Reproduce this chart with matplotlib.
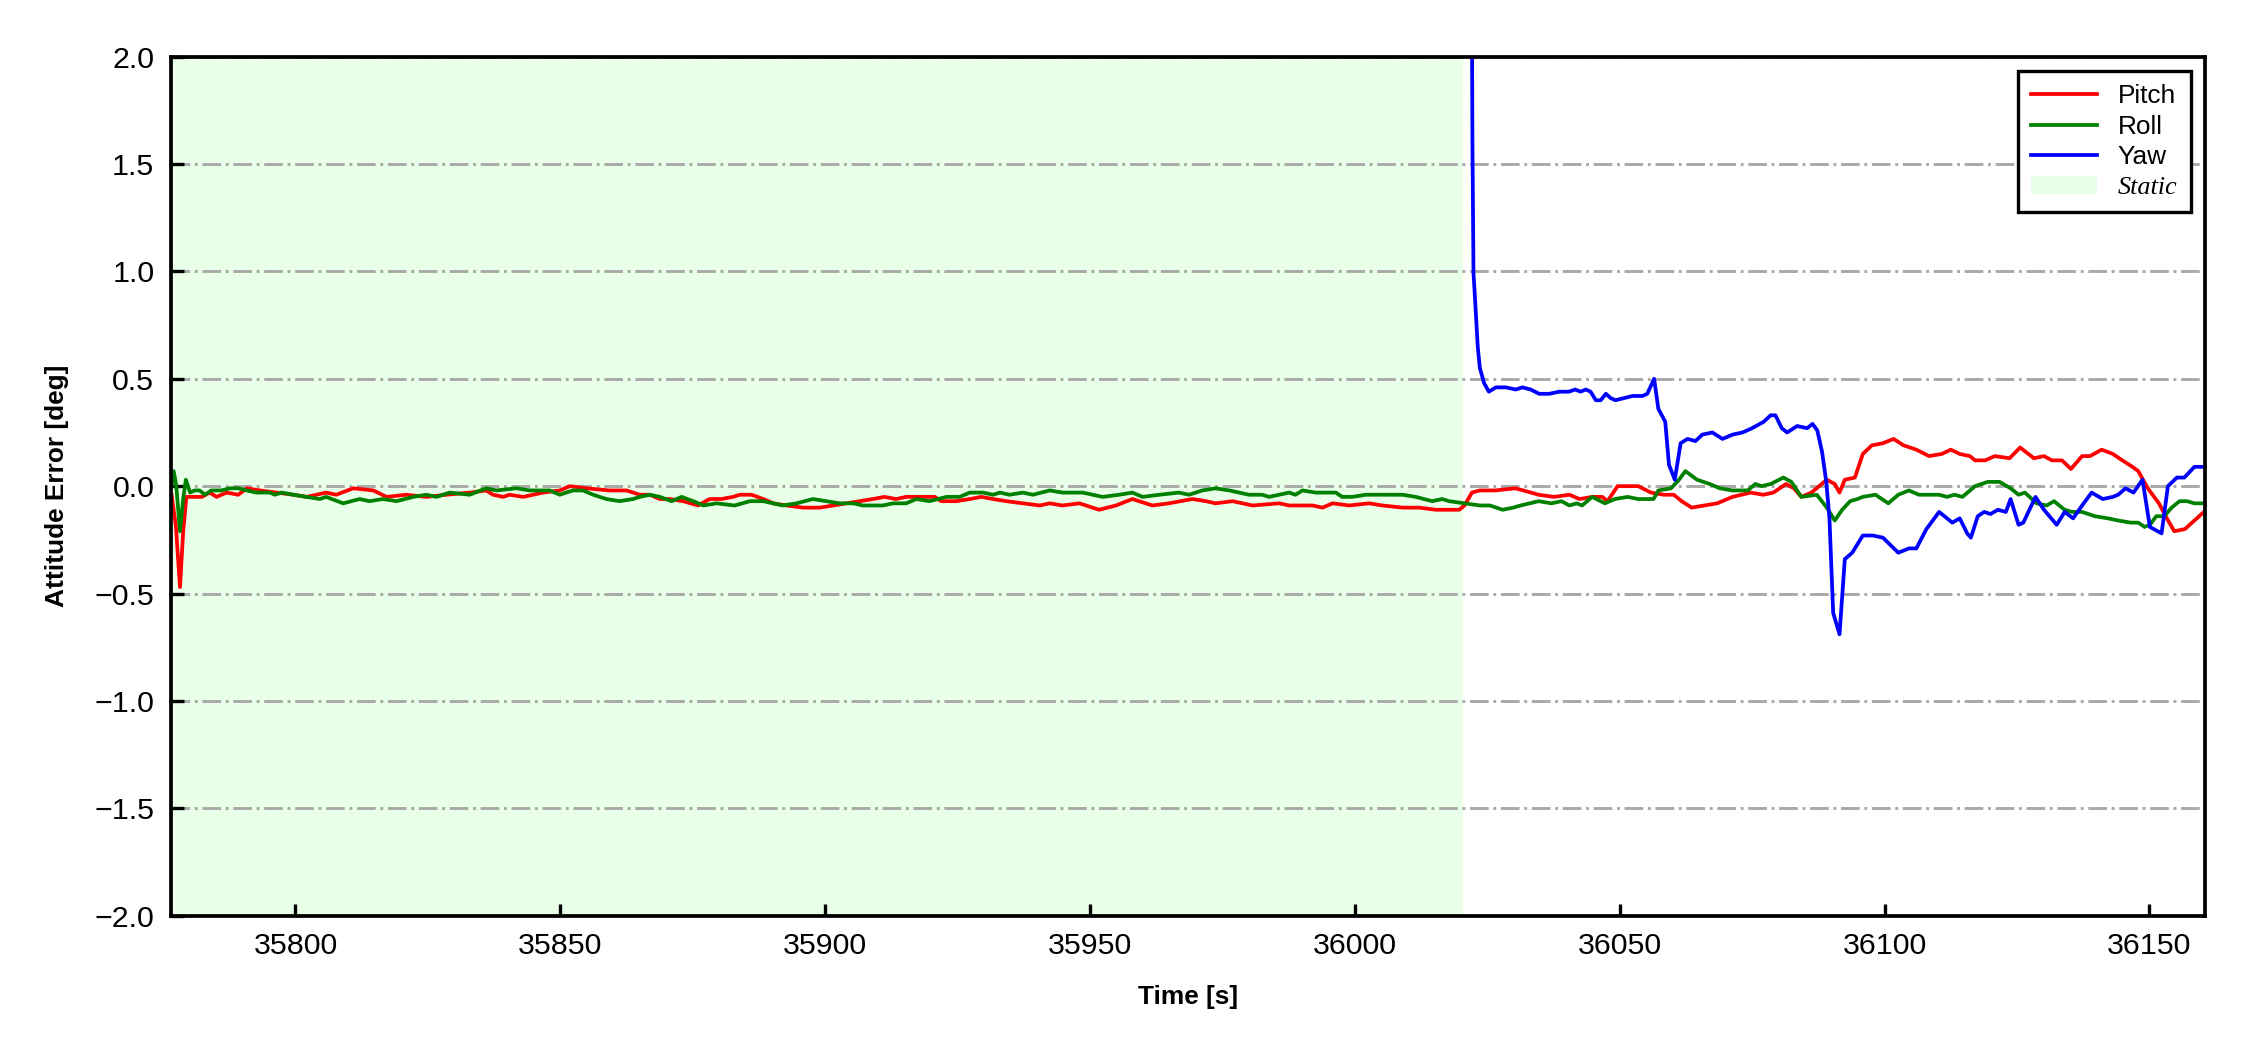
import numpy as np
import matplotlib
matplotlib.use("Agg")
import matplotlib.pyplot as plt

plt.rcParams['font.family'] = ['Liberation Sans', 'DejaVu Sans']

# time axis limits and end of the static phase
t_start = 35776.5
t_end = 36160.5
static_end = 36020.5

# Pitch error [deg]
pitch_t = [35776.6, 35777.4, 35778.2, 35778.8, 35779.4, 35780.7, 35782.3, 35783.8, 35785.1, 35787.0,
           35789.2, 35790.8, 35793.3, 35796.4, 35799.6, 35802.1, 35805.8, 35807.7, 35810.9, 35814.7,
           35817.2, 35820.9, 35824.7, 35828.5, 35832.9, 35836.0, 35837.3, 35839.2, 35840.4, 35843.0,
           35846.7, 35849.9, 35851.8, 35854.9, 35859.3, 35862.5,
           35865.0, 35866.9, 35868.8, 35870.7, 35873.2, 35876.0, 35878.2, 35880.4, 35882.6, 35883.9,
           35886.1, 35888.3, 35890.2, 35892.7, 35895.8, 35899.0, 35901.5, 35904.0, 35906.5, 35909.0,
           35911.2, 35913.4, 35915.3, 35917.8, 35920.7, 35921.9, 35924.7, 35927.3, 35929.5, 35931.7,
           35934.2, 35937.3, 35940.5, 35942.4,
           35944.8, 35948.0, 35951.7, 35954.9, 35958.0, 35961.8, 35964.9, 35969.3, 35971.9, 35973.7,
           35976.9, 35980.7, 35985.7, 35987.6, 35992.0, 35993.9, 35995.8, 35998.9, 36002.7, 36005.2,
           36009.0, 36012.1, 36015.3,
           36017.8, 36019.7, 36020.7, 36022.1, 36023.6, 36026.5, 36030.3, 36031.8, 36034.7, 36037.6,
           36040.5, 36042.4, 36044.8, 36046.7, 36047.7, 36049.6, 36053.5, 36055.9, 36058.3, 36060.2,
           36061.7, 36063.6, 36066.0, 36068.4, 36071.3, 36074.7, 36077.1, 36079.0, 36081.4, 36082.9,
           36084.3, 36086.2, 36089.1, 36090.6, 36091.5, 36092.5, 36094.4, 36095.9, 36097.6, 36099.7,
           36101.7, 36103.6, 36106.0, 36108.4, 36110.8, 36112.5, 36114.2, 36116.1, 36117.1, 36119.0,
           36120.8, 36123.6, 36125.6, 36128.2, 36130.1, 36131.6, 36133.5, 36135.2, 36137.3, 36138.8,
           36141.0, 36143.1, 36144.9, 36146.8, 36147.9, 36149.7, 36151.8, 36153.3, 36154.7, 36156.7,
           36158.5, 36160.3]
pitch = [-0.04, -0.18, -0.47, -0.21, -0.05, -0.05, -0.05, -0.03, -0.05, -0.03,
         -0.04, -0.01, -0.02, -0.03, -0.04, -0.05, -0.03, -0.04, -0.01, -0.02,
         -0.05, -0.04, -0.05, -0.04, -0.03, -0.02, -0.04, -0.05, -0.04, -0.05,
         -0.03, -0.02, 0.00, -0.01, -0.02, -0.02,
         -0.04, -0.04, -0.06, -0.06, -0.07, -0.09, -0.06, -0.06, -0.05, -0.04,
         -0.04, -0.06, -0.08, -0.09, -0.10, -0.10, -0.09, -0.08, -0.07, -0.06,
         -0.05, -0.06, -0.05, -0.05, -0.05, -0.07, -0.07, -0.06, -0.05, -0.06,
         -0.07, -0.08, -0.09, -0.08,
         -0.09, -0.08, -0.11, -0.09, -0.06, -0.09, -0.08, -0.06, -0.07, -0.08,
         -0.07, -0.09, -0.08, -0.09, -0.09, -0.10, -0.08, -0.09, -0.08, -0.09,
         -0.10, -0.10, -0.11,
         -0.11, -0.11, -0.09, -0.03, -0.02, -0.02, -0.01, -0.02, -0.04, -0.05,
         -0.04, -0.06, -0.05, -0.05, -0.07, 0.00, 0.00, -0.03, -0.04, -0.04,
         -0.07, -0.10, -0.09, -0.08, -0.05, -0.03, -0.04, -0.03, 0.01, -0.01,
         -0.05, -0.03, 0.03, 0.01, -0.03, 0.03, 0.04, 0.15, 0.19, 0.20,
         0.22, 0.19, 0.17, 0.14, 0.15, 0.17, 0.15, 0.14, 0.12, 0.12,
         0.14, 0.13, 0.18, 0.13, 0.14, 0.12, 0.12, 0.08, 0.14, 0.14,
         0.17, 0.15, 0.12, 0.09, 0.07, -0.01, -0.08, -0.15, -0.21, -0.20,
         -0.16, -0.12]

# Roll error [deg]
roll_t = [35776.6, 35777.0, 35777.5, 35778.2, 35778.8, 35779.3, 35780.1, 35781.0, 35781.9, 35782.9,
          35784.1, 35786.0, 35787.6, 35789.2, 35790.8, 35792.6, 35795.2, 35796.1, 35797.4, 35799.6,
          35802.1, 35804.6, 35805.8, 35809.0, 35812.1, 35814.0, 35816.5, 35819.1, 35822.2, 35824.7,
          35826.6, 35829.1, 35832.9, 35836.0, 35837.9, 35841.7, 35844.2, 35846.1, 35848.0, 35849.9,
          35851.1, 35852.4, 35854.3, 35856.2, 35858.7, 35861.2, 35863.7,
          35865.0, 35866.9, 35868.8, 35871.0, 35872.9, 35875.1, 35877.0, 35879.5, 35882.9, 35885.8,
          35888.3, 35890.2, 35892.0, 35894.6, 35897.7, 35900.2, 35902.7, 35905.3, 35907.1, 35910.9,
          35912.8, 35915.3, 35917.2, 35919.7, 35922.9, 35925.4, 35927.3, 35929.8, 35931.7, 35933.0,
          35934.8, 35937.3, 35939.2, 35942.4,
          35944.8, 35948.6, 35952.4, 35955.5, 35958.0, 35959.9, 35963.1, 35966.8, 35968.7, 35971.2,
          35973.7, 35976.3, 35980.0, 35982.5, 35983.8, 35987.6, 35988.8, 35990.1, 35992.6, 35996.4,
          35997.6, 35999.5, 36002.1, 36003.9, 36006.5, 36009.0, 36011.5, 36014.6, 36016.5,
          36017.8, 36020.7, 36023.6, 36025.5, 36027.9, 36029.9, 36031.3, 36034.7, 36037.1, 36039.0,
          36040.5, 36041.9, 36042.9, 36044.8, 36047.2, 36049.1, 36051.5, 36053.5, 36056.4, 36057.3,
          36059.7, 36061.2, 36062.4, 36064.6, 36067.0, 36068.9, 36071.3, 36074.2, 36075.6, 36076.8,
          36078.5, 36080.9, 36082.4, 36084.3, 36087.2, 36089.1, 36090.6, 36092.0, 36093.5, 36094.9,
          36095.9, 36098.3, 36100.7, 36102.6, 36104.6, 36106.5, 36110.3, 36111.8, 36113.2, 36114.7,
          36117.1, 36119.5, 36121.7, 36123.8, 36125.3, 36126.5, 36128.7, 36130.6, 36132.0, 36134.0,
          36135.4, 36137.3, 36139.7, 36142.2, 36144.1, 36146.5, 36147.9, 36149.1, 36150.1, 36151.3,
          36152.8, 36154.2, 36155.7, 36157.1, 36158.5, 36160.3]
roll = [0.00, 0.07, 0.00, -0.21, -0.06, 0.03, -0.03, -0.02, -0.02, -0.04,
        -0.02, -0.02, -0.01, -0.01, -0.02, -0.03, -0.03, -0.04, -0.03, -0.04,
        -0.05, -0.06, -0.05, -0.08, -0.06, -0.07, -0.06, -0.07, -0.05, -0.04,
        -0.05, -0.03, -0.04, -0.01, -0.02, -0.01, -0.02, -0.02, -0.02, -0.04,
        -0.03, -0.02, -0.02, -0.04, -0.06, -0.07, -0.06,
        -0.05, -0.04, -0.05, -0.07, -0.05, -0.07, -0.09, -0.08, -0.09, -0.07,
        -0.07, -0.08, -0.09, -0.08, -0.06, -0.07, -0.08, -0.08, -0.09, -0.09,
        -0.08, -0.08, -0.06, -0.07, -0.05, -0.05, -0.03, -0.03, -0.04, -0.03,
        -0.04, -0.03, -0.04, -0.02,
        -0.03, -0.03, -0.05, -0.04, -0.03, -0.05, -0.04, -0.03, -0.04, -0.02,
        -0.01, -0.02, -0.04, -0.04, -0.05, -0.03, -0.04, -0.02, -0.03, -0.03,
        -0.05, -0.05, -0.04, -0.04, -0.04, -0.04, -0.05, -0.07, -0.06,
        -0.07, -0.08, -0.09, -0.09, -0.11, -0.10, -0.09, -0.07, -0.08, -0.07,
        -0.09, -0.08, -0.09, -0.05, -0.08, -0.06, -0.05, -0.06, -0.06, -0.02,
        -0.01, 0.03, 0.07, 0.03, 0.01, -0.01, -0.02, -0.02, 0.01, 0.00,
        0.01, 0.04, 0.02, -0.05, -0.04, -0.10, -0.16, -0.11, -0.07, -0.06,
        -0.05, -0.04, -0.08, -0.04, -0.02, -0.04, -0.04, -0.05, -0.04, -0.05,
        0.00, 0.02, 0.02, -0.01, -0.04, -0.03, -0.08, -0.09, -0.07, -0.11,
        -0.12, -0.12, -0.14, -0.15, -0.16, -0.17, -0.17, -0.19, -0.18, -0.14,
        -0.14, -0.10, -0.07, -0.07, -0.08, -0.08]

# Yaw error [deg] (only after the static phase)
yaw_t = [36021.8, 36022.2, 36022.4, 36022.6, 36023.2, 36023.6, 36024.4, 36025.3, 36026.6, 36028.5,
         36030.4, 36031.6, 36033.2, 36034.8, 36036.7, 36038.6, 36040.4, 36041.6, 36042.6, 36043.6,
         36044.5, 36045.5, 36046.4, 36047.4, 36048.3, 36049.2, 36050.8, 36052.4, 36054.3, 36055.2,
         36056.5, 36057.3, 36058.6, 36059.3, 36060.4, 36061.5, 36062.8, 36064.3, 36065.6, 36067.5,
         36069.4, 36071.3, 36073.2, 36075.0, 36077.2, 36078.5, 36079.4, 36080.6, 36081.6, 36083.5,
         36085.4, 36086.4, 36087.3, 36088.2, 36089.0, 36089.6, 36090.3, 36091.5, 36092.5, 36093.9,
         36095.9, 36097.8, 36099.7, 36102.6, 36104.6, 36106.0, 36107.9, 36110.3, 36112.8, 36114.2,
         36115.6, 36116.3, 36117.6, 36118.8, 36120.0, 36121.4, 36122.9, 36123.8, 36125.3, 36126.2,
         36128.5, 36130.1, 36132.5, 36134.0, 36135.6, 36137.3, 36139.1, 36141.2, 36143.1, 36144.1,
         36145.5, 36147.0, 36148.7, 36150.1, 36152.3, 36153.5, 36155.2, 36156.6, 36158.5, 36160.3]
yaw = [4.00, 1.60, 0.99, 0.91, 0.65, 0.55, 0.48, 0.44, 0.46, 0.46,
       0.45, 0.46, 0.45, 0.43, 0.43, 0.44, 0.44, 0.45, 0.44, 0.45,
       0.44, 0.40, 0.40, 0.43, 0.41, 0.40, 0.41, 0.42, 0.42, 0.43,
       0.50, 0.36, 0.30, 0.10, 0.03, 0.20, 0.22, 0.21, 0.24, 0.25,
       0.22, 0.24, 0.25, 0.27, 0.30, 0.33, 0.33, 0.27, 0.25, 0.28,
       0.27, 0.29, 0.26, 0.16, 0.02, -0.15, -0.59, -0.69, -0.34, -0.31,
       -0.23, -0.23, -0.24, -0.31, -0.29, -0.29, -0.20, -0.12, -0.17, -0.15,
       -0.22, -0.24, -0.14, -0.12, -0.13, -0.11, -0.12, -0.06, -0.18, -0.17,
       -0.05, -0.11, -0.18, -0.12, -0.15, -0.09, -0.03, -0.06, -0.05, -0.04,
       -0.01, -0.03, 0.03, -0.19, -0.22, 0.00, 0.04, 0.04, 0.09, 0.09]

yticks = [-2.0, -1.5, -1.0, -0.5, 0.0, 0.5, 1.0, 1.5, 2.0]
xticks = [35800, 35850, 35900, 35950, 36000, 36050, 36100, 36150]

fig = plt.figure(figsize=(7.5, 3.5), dpi=300)
ax = fig.add_axes([0.076, 0.128, 0.904, 0.818])

ax.axvspan(t_start, static_end, color=(0.91, 1.0, 0.91), lw=0, label='Static', zorder=0)
ax.plot(pitch_t, pitch, color='red', lw=0.9, label='Pitch')
ax.plot(roll_t, roll, color='green', lw=0.9, label='Roll')
ax.plot(yaw_t, yaw, color='blue', lw=0.9, label='Yaw')

ax.set_xlim(t_start, t_end)
ax.set_ylim(-2.0, 2.0)
ax.set_xticks(xticks)
ax.set_yticks(yticks)
ax.yaxis.grid(True, linestyle='-.', color='darkgray', lw=0.7)
ax.set_axisbelow(True)

ax.tick_params(direction='in', length=3, width=0.8, labelsize=7.3, pad=4)
for s in ax.spines.values():
    s.set_linewidth(0.9)

ax.set_xlabel('Time [s]', fontsize=6.3, fontweight='bold', labelpad=6)
ax.set_ylabel('Attitude Error [deg]', fontsize=6.3, fontweight='bold', labelpad=6)

handles, labels = ax.get_legend_handles_labels()
order = [1, 2, 3, 0]
leg = ax.legend([handles[i] for i in order], [labels[i] for i in order],
                loc='upper right', fontsize=6.3, fancybox=False, edgecolor='black',
                framealpha=1, borderaxespad=0.55, handlelength=2.5, labelspacing=0.25,
                borderpad=0.5)
leg.get_frame().set_linewidth(0.8)
st = leg.get_texts()[3]
st.set_fontfamily('Liberation Serif')
st.set_fontstyle('italic')

fig.savefig('out.png', dpi=300)
